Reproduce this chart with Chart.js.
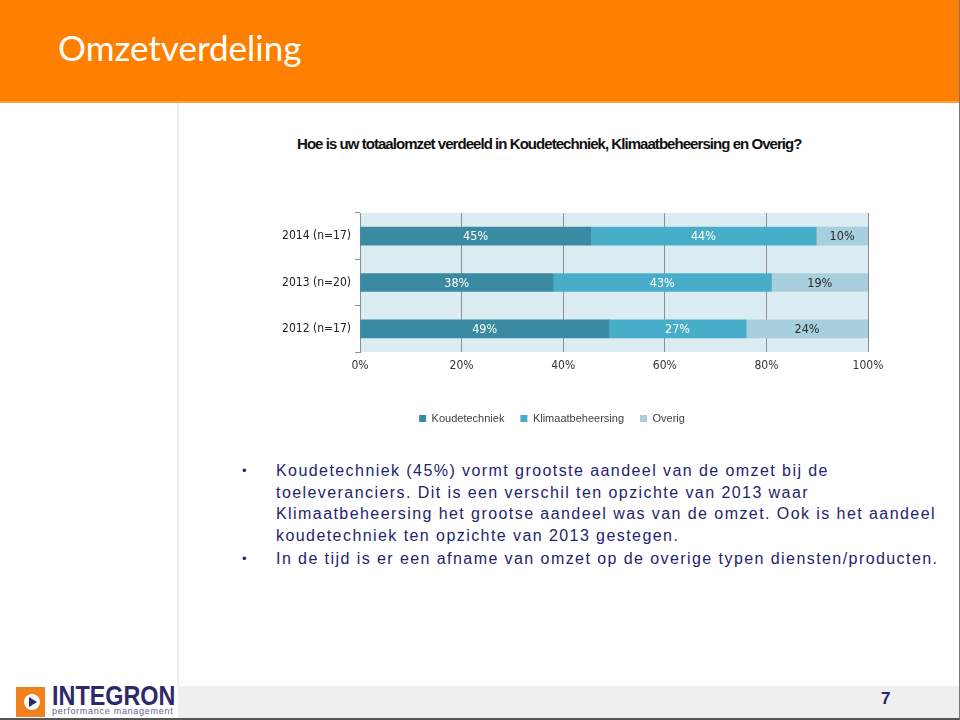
<!DOCTYPE html>
<html><head><meta charset="utf-8">
<script src="https://cdn.jsdelivr.net/npm/chart.js@4/dist/chart.umd.min.js"></script>
<style>
html,body{margin:0;padding:0;background:#fff;}
#slide{position:relative;width:960px;height:720px;overflow:hidden;background:#fff;}
#hdr{position:absolute;left:0;top:0;width:960px;height:103px;background:#ff7f00;border-bottom:2px solid #ffa040;box-sizing:border-box;}
#hdr h1{position:absolute;left:58px;top:26px;margin:0;font:400 35px Lato,"Open Sans",sans-serif;color:#fff;}
#vline{position:absolute;left:177px;top:103px;width:2px;height:583px;background:#ececec;}
#ctitle{position:absolute;left:297px;top:135px;font:bold 15px "Liberation Sans",Arial,sans-serif;letter-spacing:-0.95px;color:#111;white-space:nowrap;}
#chartwrap{position:absolute;left:236px;top:125px;width:704px;height:309px;}
#bul{position:absolute;left:240px;top:460px;width:715px;font:16px "Liberation Sans",sans-serif;color:#24246e;line-height:21.5px;letter-spacing:1.43px;white-space:nowrap;}
#bul .b{position:relative;padding-left:36px;}
#bul .b:before{content:"•";position:absolute;left:2px;top:0;font-size:13px;}
#foot{position:absolute;left:178px;top:686px;width:782px;height:32px;background:#efefef;}
#pg{position:absolute;left:881px;top:689px;font:bold 17px "Liberation Sans",sans-serif;color:#24246e;}
#logo{position:absolute;left:0;top:687px;width:178px;height:33px;background:#fff;}
#lsq{position:absolute;left:16px;top:0;width:29px;height:30px;background:#f08020;}
#lcirc{position:absolute;left:8px;top:7px;width:16px;height:16px;border-radius:50%;background:#fff;}
#ltri{position:absolute;left:5px;top:3px;width:0;height:0;border-top:5px solid transparent;border-bottom:5px solid transparent;border-left:8px solid #2a2a6e;}
#lname{position:absolute;left:52px;top:-7px;font:bold 28px "Liberation Sans",sans-serif;color:#2e2a6a;transform:scaleX(0.835);transform-origin:0 0;white-space:nowrap;}
#lsub{position:absolute;left:52px;top:19px;font:9px "Liberation Sans",sans-serif;color:#6a6290;letter-spacing:0.72px;white-space:nowrap;}
#border{position:absolute;left:0;top:0;width:960px;height:720px;box-sizing:border-box;border-bottom:2px solid #555;border-right:1px solid #777;pointer-events:none;}
</style></head>
<body><div id="slide">
<div id="hdr"><h1>Omzetverdeling</h1></div>
<div id="vline"></div>
<div id="ctitle">Hoe is uw totaalomzet verdeeld in Koudetechniek, Klimaatbeheersing en Overig?</div>
<div id="chartwrap"><canvas id="c" width="704" height="309"></canvas></div>
<div id="bul">
<div class="b">Koudetechniek (45%) vormt grootste aandeel van de omzet bij de<br>toeleveranciers. Dit is een verschil ten opzichte van 2013 waar<br>Klimaatbeheersing het grootse aandeel was van de omzet. Ook is het aandeel<br>koudetechniek ten opzichte van 2013 gestegen.</div>
<div class="b" style="margin-top:2px">In de tijd is er een afname van omzet op de overige typen diensten/producten.</div>
</div>
<div id="foot"></div>
<div id="pg">7</div>
<div id="logo"><div id="lsq"><div id="lcirc"><div id="ltri"></div></div></div><div id="lname">INTEGRON</div><div id="lsub">performance management</div></div>
<div id="border"></div>
</div>
<script>
const categories = ["2014 (n=17)", "2013 (n=20)", "2012 (n=17)"];
const koudetechniek = [45.4, 38, 49];
const klimaatbeheersing = [44.4, 43, 27];
const overig = [10.2, 19, 24];
const seriesNames = ["Koudetechniek", "Klimaatbeheersing", "Overig"];
const xTicks = [0, 20, 40, 60, 80, 100];

const colors = ["#3a8aa1", "#48adc9", "#a8cfdd"];
const labelColors = ["#ffffff", "#ffffff", "#2a2a2a"];
const tickFont = {family: "'DejaVu Sans Condensed',sans-serif", size: 12};

const bgPlugin = {
  id: 'bg',
  beforeDraw(chart) {
    const a = chart.chartArea, ctx = chart.ctx;
    ctx.save(); ctx.fillStyle = '#dcecf3';
    ctx.fillRect(a.left, a.top, a.right - a.left, a.bottom - a.top);
    ctx.restore();
  }
};
const labelPlugin = {
  id: 'vals',
  afterDatasetsDraw(chart) {
    const ctx = chart.ctx;
    ctx.save();
    ctx.font = "12.5px 'DejaVu Sans Condensed',sans-serif";
    ctx.textAlign = 'center'; ctx.textBaseline = 'middle';
    chart.data.datasets.forEach((ds, i) => {
      const meta = chart.getDatasetMeta(i);
      meta.data.forEach((el, j) => {
        ctx.fillStyle = labelColors[i];
        ctx.fillText(Math.round(ds.data[j]) + '%', (el.x + el.base) / 2, el.y + 1);
      });
    });
    ctx.restore();
  }
};

new Chart(document.getElementById('c'), {
  type: 'bar',
  data: {
    labels: categories,
    datasets: [koudetechniek, klimaatbeheersing, overig].map((d, i) => ({
      label: seriesNames[i], data: d, backgroundColor: colors[i], borderWidth: 0,
      barThickness: 18
    }))
  },
  options: {
    indexAxis: 'y',
    responsive: false,
    animation: false,
    layout: {padding: {left: 0, right: 72, top: 88, bottom: 0}},
    plugins: {
      legend: {position: 'bottom', labels: {boxWidth: 7, boxHeight: 7, padding: 16, color: '#404040',
        font: {family: "'Liberation Sans',sans-serif", size: 11}}},
      tooltip: {enabled: false}
    },
    scales: {
      x: {stacked: true, min: 0, max: 100,
        afterBuildTicks(s) { s.ticks = xTicks.map(v => ({value: v})); },
        afterFit(s) { s.height = 45; },
        ticks: {callback: v => v + '%', color: '#333', font: tickFont, padding: 7},
        grid: {color: '#8f8f8f', drawTicks: false},
        border: {display: false}
      },
      y: {stacked: true,
        afterFit(s) { s.width = 124; },
        ticks: {color: '#222', font: tickFont, padding: 4},
        grid: {drawOnChartArea: false, drawTicks: true, tickLength: 5, color: '#8f8f8f', offset: true},
        border: {display: true, color: '#8f8f8f'}
      }
    }
  },
  plugins: [bgPlugin, labelPlugin]
});
</script>
</body></html>
